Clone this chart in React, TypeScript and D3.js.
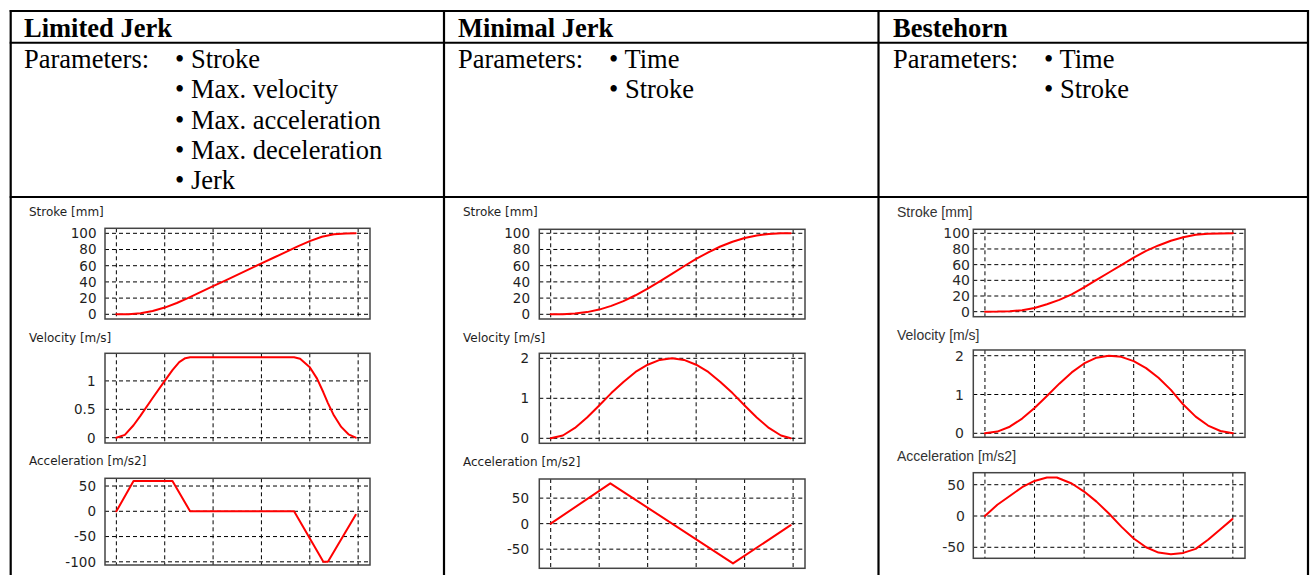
import React from "react";
import * as d3 from "d3";

type P = [number, number];

// ---------- texts ----------
const columnTitles = ["Limited Jerk", "Minimal Jerk", "Bestehorn"];
const ljParameters = ["Stroke", "Max. velocity", "Max. acceleration", "Max. deceleration", "Jerk"];
const mjParameters = ["Time", "Stroke"];
const bhParameters = ["Time", "Stroke"];
const panelTitles = ["Stroke [mm]", "Velocity [m/s]", "Acceleration [m/s2]"];

// ---------- ticks ----------
const timeGrid = [0, 0.2, 0.4, 0.6, 0.8, 1];
const strokeTicks = [0, 20, 40, 60, 80, 100];
const ljVelocityTicks = [0, 0.5, 1];
const ljAccelTicks = [-100, -50, 0, 50];
const velocityTicks = [0, 1, 2];
const accelTicks = [-50, 0, 50];

// ---------- data (time normalised 0..1) ----------
const ljStroke: P[] = [[0, 0], [0.05, 0.2], [0.1, 1.4], [0.15, 4.1], [0.2, 8.3], [0.25, 14], [0.3, 20.7], [0.35, 27.7], [0.4, 34.7], [0.45, 41.7], [0.5, 48.8], [0.55, 55.8], [0.6, 62.8], [0.65, 69.8], [0.7, 76.8], [0.75, 83.8], [0.8, 90.4], [0.85, 95.7], [0.9, 98.8], [0.95, 99.8], [0.99, 100]];
const ljVelocity: P[] = [[0, 0], [0.035, 0.05], [0.071, 0.22], [0.1, 0.39], [0.15, 0.7], [0.2, 1.0], [0.232, 1.19], [0.26, 1.33], [0.285, 1.4], [0.305, 1.415], [0.735, 1.415], [0.76, 1.39], [0.8, 1.24], [0.83, 1.04], [0.856, 0.8], [0.875, 0.61], [0.9, 0.39], [0.93, 0.19], [0.96, 0.06], [0.99, 0]];
const ljAccel: P[] = [[0, 0], [0.071, 60], [0.232, 60], [0.305, 0], [0.735, 0], [0.856, -100], [0.875, -100], [0.99, -7]];

const mjStroke: P[] = [[0, 0], [0.05, 0.1], [0.1, 0.9], [0.15, 2.7], [0.2, 5.8], [0.25, 10.4], [0.3, 16.3], [0.35, 23.5], [0.4, 31.7], [0.45, 40.7], [0.5, 50], [0.55, 59.3], [0.6, 68.3], [0.65, 76.5], [0.7, 83.7], [0.75, 89.6], [0.8, 94.2], [0.85, 97.3], [0.9, 99.1], [0.95, 99.9], [0.99, 100]];
const mjVelocity: P[] = [[0, 0], [0.05, 0.07], [0.1, 0.26], [0.15, 0.52], [0.2, 0.82], [0.25, 1.13], [0.3, 1.41], [0.35, 1.66], [0.4, 1.84], [0.45, 1.96], [0.5, 2], [0.55, 1.96], [0.6, 1.84], [0.65, 1.66], [0.7, 1.41], [0.75, 1.13], [0.8, 0.82], [0.85, 0.52], [0.9, 0.26], [0.95, 0.07], [0.99, 0]];
const mjAccel: P[] = [[0, 0], [0.246, 79], [0.752, -78], [0.99, -3]];

const bhStroke: P[] = [[0, 0], [0.05, 0.1], [0.1, 0.6], [0.15, 1.8], [0.2, 4.7], [0.25, 9.4], [0.3, 15], [0.35, 22], [0.4, 31], [0.45, 40.5], [0.5, 50], [0.55, 59.5], [0.6, 69], [0.65, 77.5], [0.7, 84.5], [0.75, 90.5], [0.8, 95], [0.85, 98.2], [0.9, 99.5], [0.95, 99.9], [1, 100]];
const bhVelocity: P[] = [[0, 0], [0.05, 0.045], [0.1, 0.17], [0.15, 0.38], [0.2, 0.65], [0.25, 0.96], [0.3, 1.28], [0.35, 1.57], [0.4, 1.8], [0.45, 1.95], [0.5, 2], [0.55, 1.97], [0.6, 1.86], [0.65, 1.68], [0.7, 1.43], [0.75, 1.12], [0.8, 0.74], [0.85, 0.43], [0.9, 0.2], [0.95, 0.06], [1, 0]];
const bhAccel: P[] = [[0, 0], [0.05, 18], [0.1, 32], [0.15, 46], [0.2, 56], [0.25, 61.5], [0.29, 61.5], [0.35, 52], [0.4, 39], [0.45, 23], [0.5, 4], [0.55, -17], [0.6, -36], [0.65, -50], [0.7, -58.5], [0.75, -61], [0.8, -59], [0.85, -52.5], [0.9, -38], [0.95, -21], [0.998, -5]];

// ---------- layout ----------
const W = 1314;
const H = 575;
const X_DOMAIN: [number, number] = [-0.047, 1.049];
const SERIF = "'Liberation Serif', 'Times New Roman', serif";

type PanelSpec = {
  x0: number; x1: number; y0: number; y1: number;
  yDomain: [number, number];
  data: P[];
  ticks: number[];
  title: string;
  titleX: number; titleY: number;
  labelEnd: number;
  style: "a" | "b";
};

const panels: PanelSpec[] = [
  { x0: 105, x1: 370, y0: 228.3, y1: 319, yDomain: [-5.8, 106.2], data: ljStroke, ticks: strokeTicks, title: panelTitles[0], titleX: 29, titleY: 216.3, labelEnd: 96.5, style: "a" },
  { x0: 105, x1: 370, y0: 353.3, y1: 443, yDomain: [-0.093, 1.486], data: ljVelocity, ticks: ljVelocityTicks, title: panelTitles[1], titleX: 29, titleY: 342, labelEnd: 95.5, style: "a" },
  { x0: 105, x1: 370, y0: 478.3, y1: 565, yDomain: [-106.3, 65.3], data: ljAccel, ticks: ljAccelTicks, title: panelTitles[2], titleX: 29, titleY: 464.5, labelEnd: 96, style: "a" },
  { x0: 539.3, x1: 805, y0: 229.3, y1: 319, yDomain: [-5.8, 104.9], data: mjStroke, ticks: strokeTicks, title: panelTitles[0], titleX: 463, titleY: 216.3, labelEnd: 530, style: "a" },
  { x0: 539.3, x1: 805, y0: 353.3, y1: 443.3, yDomain: [-0.125, 2.125], data: mjVelocity, ticks: velocityTicks, title: panelTitles[1], titleX: 463, titleY: 342, labelEnd: 529, style: "a" },
  { x0: 539.3, x1: 805, y0: 479, y1: 568.3, yDomain: [-87.5, 87.5], data: mjAccel, ticks: accelTicks, title: panelTitles[2], titleX: 463, titleY: 466, labelEnd: 529, style: "a" },
  { x0: 973.3, x1: 1245, y0: 229.3, y1: 316.7, yDomain: [-6.4, 105.1], data: bhStroke, ticks: strokeTicks, title: panelTitles[0], titleX: 897, titleY: 216.7, labelEnd: 970, style: "b" },
  { x0: 973.3, x1: 1245, y0: 350, y1: 437.3, yDomain: [-0.103, 2.147], data: bhVelocity, ticks: velocityTicks, title: panelTitles[1], titleX: 897, titleY: 340, labelEnd: 964, style: "b" },
  { x0: 973.3, x1: 1245, y0: 472.7, y1: 558.3, yDomain: [-67.6, 69.2], data: bhAccel, ticks: accelTicks, title: panelTitles[2], titleX: 897, titleY: 461, labelEnd: 965, style: "b" },
];

function Panel({ p }: { p: PanelSpec }) {
  const x = d3.scaleLinear().domain(X_DOMAIN).range([p.x0, p.x1]);
  const y = d3.scaleLinear().domain(p.yDomain).range([p.y1, p.y0]);
  const line = d3.line<P>().x((d) => x(d[0])).y((d) => y(d[1]));
  const titleFont = p.style === "a" ? "'DejaVu Sans', sans-serif" : "'Liberation Sans', Arial, sans-serif";
  const titleSize = p.style === "a" ? 12 : 14;
  const tickFont = "'DejaVu Sans', sans-serif";
  const tickSize = p.style === "a" ? 13.5 : 14;
  return (
    <g>
      <text x={p.titleX} y={p.titleY} fontFamily={titleFont} fontSize={titleSize} fill={p.style === "a" ? "#1e1e1e" : "#333"}>
        {p.title}
      </text>
      <rect x={p.x0} y={p.y0} width={p.x1 - p.x0} height={p.y1 - p.y0} fill="#fff" />
      {timeGrid.map((t) => (
        <line key={"v" + t} x1={x(t)} x2={x(t)} y1={p.y0} y2={p.y1} stroke="#000" strokeWidth={1} strokeDasharray="4 3" />
      ))}
      {p.ticks.map((v) => (
        <line key={"h" + v} x1={p.x0} x2={p.x1} y1={y(v)} y2={y(v)} stroke="#000" strokeWidth={1} strokeDasharray="4 3" />
      ))}
      {p.ticks.map((v) => (
        <text
          key={"t" + v}
          x={p.labelEnd}
          y={y(v) + tickSize * 0.36}
          textAnchor="end"
          fontFamily={tickFont}
          fontSize={tickSize}
          fill={p.style === "a" ? "#1e1e1e" : "#2a2a2a"}
        >
          {String(v)}
        </text>
      ))}
      <rect x={p.x0} y={p.y0} width={p.x1 - p.x0} height={p.y1 - p.y0} fill="none" stroke="#444" strokeWidth={1.5} />
      <path d={line(p.data) || ""} fill="none" stroke="#ff0000" strokeWidth={2} strokeLinejoin="round" strokeLinecap="round" />
    </g>
  );
}

const colX = [24, 458, 893];
const bulletOffset = 151;
const paramLists = [ljParameters, mjParameters, bhParameters];

export default function App() {
  const borderX = [10.7, 444, 878.5, 1308];
  const borderY = [11, 42.7, 197];
  return (
    <svg width={W} height={H} style={{ position: "absolute", left: 0, top: 0, background: "#fff" }}>
      <rect x={0} y={0} width={W} height={H} fill="#fff" />
      {panels.map((p, i) => (
        <Panel key={i} p={p} />
      ))}
      {borderY.map((yy) => (
        <line key={"by" + yy} x1={borderX[0] - 1} x2={borderX[3] + 1} y1={yy} y2={yy} stroke="#000" strokeWidth={2} />
      ))}
      {borderX.map((xx) => (
        <line key={"bx" + xx} x1={xx} x2={xx} y1={borderY[0] - 1} y2={H} stroke="#000" strokeWidth={2.2} />
      ))}
      {columnTitles.map((t, i) => (
        <text key={t} x={colX[i]} y={37.3} fontFamily={SERIF} fontWeight="bold" fontSize={26.5} fill="#000">
          {t}
        </text>
      ))}
      {paramLists.map((list, i) => (
        <g key={"pl" + i} fontFamily={SERIF} fontSize={26.5} fill="#000">
          <text x={colX[i]} y={68.3}>Parameters:</text>
          {list.map((item, k) => (
            <text key={item} x={colX[i] + bulletOffset} y={68.3 + 30.1 * k}>
              {"\u2022 " + item}
            </text>
          ))}
        </g>
      ))}
    </svg>
  );
}
